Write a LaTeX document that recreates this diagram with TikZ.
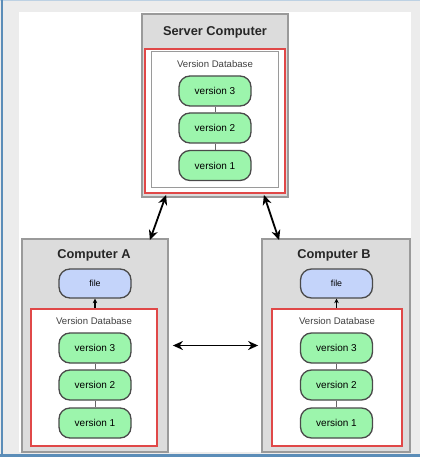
\documentclass[tikz,border=0pt]{standalone}
\usepackage{fontspec}
\setmainfont{Liberation Sans}
\usetikzlibrary{arrows.meta}
\definecolor{frame}{HTML}{ECECEC}
\definecolor{edgeblue}{HTML}{5B8DB8}
\definecolor{boxfill}{HTML}{DCDCDC}
\definecolor{boxline}{HTML}{9A9A9A}
\definecolor{pillgreen}{HTML}{9CF5AC}
\definecolor{pillblue}{HTML}{C4D4FA}
\definecolor{pillline}{HTML}{4A4A4A}
\definecolor{dbred}{HTML}{E04848}
\tikzset{
  machine/.style={draw=boxline, fill=boxfill, line width=1.8pt, inner sep=0pt},
  dbbox/.style={draw=dbred, fill=white, line width=1.8pt, inner sep=0pt},
  pill/.style={draw=pillline, line width=1.3pt, rounded corners=11pt, minimum width=72pt, minimum height=30pt, inner sep=0pt, font=\fontsize{10}{12}\selectfont},
  verpill/.style={pill, fill=pillgreen},
  filepill/.style={pill, fill=pillblue, minimum height=29pt, font=\fontsize{8.8}{10}\selectfont},
  title/.style={font=\fontsize{12.8}{14}\selectfont\bfseries, text=black!85, inner sep=0pt},
  dblabel/.style={font=\fontsize{9.6}{11}\selectfont, text=black!75, inner sep=0pt},
  link/.style={draw=black!60, line width=0.8pt},
  sync/.style={{Stealth[length=10pt,width=9pt]}-{Stealth[length=10pt,width=9pt]}, line width=1.8pt},
  up/.style={-{Stealth[length=4.5pt,width=4.5pt]}, line width=1.1pt}
}
\begin{document}
\begin{tikzpicture}[x=1pt,y=-1pt]
\useasboundingbox (0,0) rectangle (420,457);
% screenshot frame
\fill[frame] (0,0) rectangle (420,457);
\fill[white] (19,12) rectangle (411,452);
\fill[edgeblue!40] (0,0) rectangle (420,1.5);
\fill[edgeblue] (0.5,0) rectangle (2.5,457);
\fill[edgeblue] (0,454) rectangle (420,457);

% server
\node[machine, minimum width=146pt, minimum height=183pt] (server) at (215,105.5) {};
\node[title] (servertitle) at (215,32) {Server Computer};
\node[draw=dbred, fill=white, line width=2pt, minimum width=140pt, minimum height=144pt, inner sep=0pt] (sdbred) at (215.3,121.3) {};
\node[draw=boxline, fill=white, line width=0.9pt, minimum width=127pt, minimum height=136pt, inner sep=0pt] (sdb) at (215,119.5) {};
\node[dblabel] (sdblabel) at (215,64.5) {Version Database};
\node[verpill] (s3) at (215,91) {version 3};
\node[verpill] (s2) at (215,128) {version 2};
\node[verpill] (s1) at (215,165.5) {version 1};
\draw[link] (s3) -- (s2);
\draw[link] (s2) -- (s1);

% computer A
\node[machine, minimum width=146pt, minimum height=213pt] (compA) at (95,345.5) {};
\node[title] (atitle) at (94,255) {Computer A};
\node[filepill] (afile) at (95,283.5) {file};
\node[dbbox, minimum width=126pt, minimum height=137pt] (adb) at (94,377.5) {};
\node[dblabel] (alabel) at (94,321) {Version Database};
\node[verpill] (a3) at (95,348) {version 3};
\node[verpill] (a2) at (95,385) {version 2};
\node[verpill] (a1) at (95,423) {version 1};
\draw[link] (a3) -- (a2);
\draw[link] (a2) -- (a1);
\draw[up] (afile.south |- adb.north) -- (afile.south);

% computer B
\node[machine, minimum width=148pt, minimum height=213pt] (compB) at (336,345.5) {};
\node[title] (btitle) at (334,255) {Computer B};
\node[filepill] (bfile) at (336.5,283.5) {file};
\node[dbbox, minimum width=130pt, minimum height=137pt] (bdb) at (337,377.5) {};
\node[dblabel] (blabel) at (337,321) {Version Database};
\node[verpill] (b3) at (336.5,348) {version 3};
\node[verpill] (b2) at (336.5,385) {version 2};
\node[verpill] (b1) at (336.5,423) {version 1};
\draw[link] (b3) -- (b2);
\draw[link] (b2) -- (b1);
\draw[up] (bfile.south |- bdb.north) -- (bfile.south);

% sync arrows
\draw[sync] ([xshift=25pt,yshift=3pt]server.south west) -- ([xshift=-19pt,yshift=-2pt]compA.north east);
\draw[sync] ([xshift=-25pt,yshift=3pt]server.south east) -- ([xshift=18pt,yshift=-2pt]compB.north west);
\draw[sync] ([xshift=4pt]compA.east) -- ([xshift=-3pt]compB.west);
\end{tikzpicture}
\end{document}
